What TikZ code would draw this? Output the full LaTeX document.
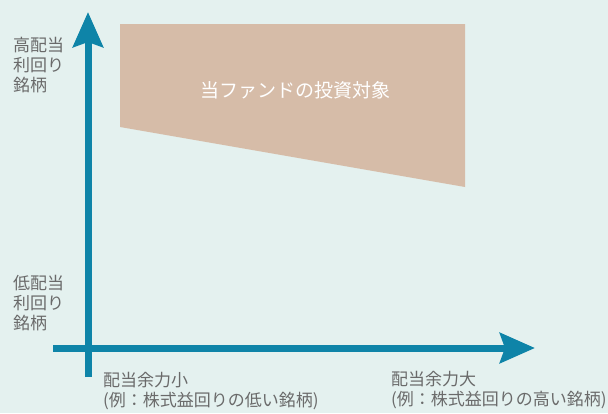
\documentclass[tikz,border=0pt]{standalone}
\usepackage{fontspec}
\setmainfont{Noto Sans CJK JP}
\usepackage{tikz}
\usetikzlibrary{positioning,arrows.meta}
\usepackage{xcolor}
\definecolor{bgmint}{HTML}{E4F1EF}
\definecolor{axisblue}{HTML}{0E84A8}
\definecolor{zonetan}{HTML}{D6BCA8}
\definecolor{labelgray}{HTML}{6A6A6A}

\begin{document}
\begin{tikzpicture}[x=1pt, y=-1pt,
    axis/.style={line width=7pt, draw=axisblue, -{Stealth[length=35pt, width=30pt, inset=5pt]}},
    axislabel/.style={anchor=north west, inner sep=0pt, align=left, text=labelgray, font=\fontsize{17}{20}\selectfont}]
        % Background
        \fill[bgmint] (0,0) rectangle (608,413);
        \useasboundingbox (0,0) rectangle (608,413);

        % Target zone
        \fill[zonetan] (120,24) -- (465,24) -- (465,187) -- (120,127) -- cycle;
        \node[text=white, font=\fontsize{19}{22}\selectfont] (target) at (295,90) {当ファンドの投資対象};

        % Axes
        \coordinate (ybot) at (88,377);
        \coordinate (ytop) at (88,12);
        \coordinate (xleft) at (53,348);
        \coordinate (xright) at (535,348);
        \draw[axis] (ybot) -- (ytop);
        \draw[axis] (xleft) -- (xright);

        % Labels
        \node[axislabel] (high) at (13,37) {高配当\\利回り\\銘柄};
        \node[axislabel] (low) at (13,275) {低配当\\利回り\\銘柄};
        \node[axislabel] (small) at (103,372) {配当余力小\\(例：株式益回りの低い銘柄)};
        \node[axislabel] (large) at (391,371) {配当余力大\\(例：株式益回りの高い銘柄)};
    \end{tikzpicture}
\end{document}
